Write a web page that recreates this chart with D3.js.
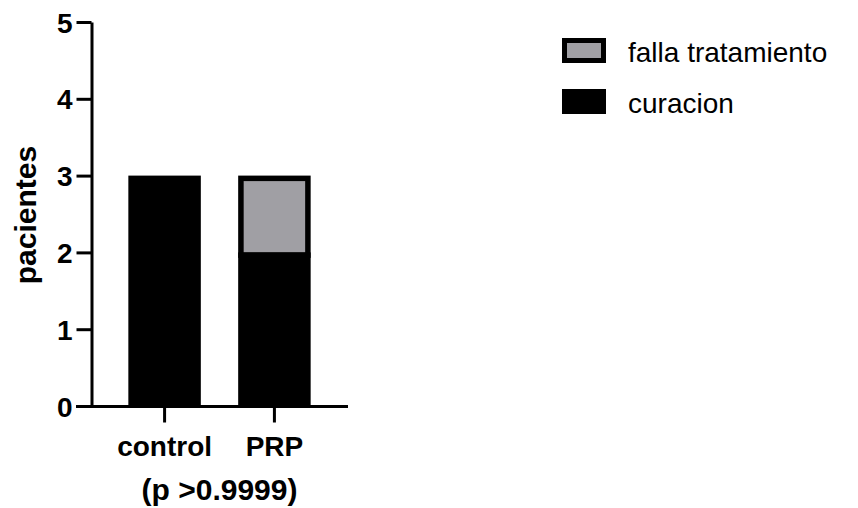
<!DOCTYPE html>
<html>
<head>
<meta charset="utf-8">
<script src="https://cdn.jsdelivr.net/npm/d3@7"></script>
<style>
  body { margin: 0; background: #fff; }
  svg text { font-family: "Liberation Sans", Arial, Helvetica, sans-serif; }
</style>
</head>
<body>
<svg id="chart" width="858" height="508"></svg>
<script>
const categories = ['control', 'PRP']
const curacion = [3, 2]
const falla = [0, 1]
const yTicks = [0, 1, 2, 3, 4, 5]
const seriesNames = ['falla tratamiento', 'curacion']
const seriesColors = ['#a09fa4', '#000000']

const svg = d3.select('#chart')
const x = d3.scaleBand().domain(categories).range([91, 348]).padding(0.34)
const y = d3.scaleLinear().domain([0, 5]).range([406, 22])

const rows = categories.map((c, i) => ({cat: c, curacion: curacion[i], falla: falla[i]}))
const stack = d3.stack().keys(['curacion', 'falla'])(rows)
const bw = 5.5

// gray segment first (with thick border), black on top of its bottom edge
const gFalla = svg.append('g')
gFalla.selectAll('rect').data(stack[1].filter(d => d[1] > d[0])).join('rect')
  .attr('x', d => x(d.data.cat) + bw / 2)
  .attr('y', d => y(d[1]) + bw / 2)
  .attr('width', x.bandwidth() - bw)
  .attr('height', d => y(d[0]) - y(d[1]))
  .attr('fill', seriesColors[0])
  .attr('stroke', '#000').attr('stroke-width', bw)

const gCur = svg.append('g')
gCur.selectAll('rect').data(stack[0]).join('rect')
  .attr('x', d => x(d.data.cat))
  .attr('y', d => y(d[1]))
  .attr('width', x.bandwidth())
  .attr('height', d => y(d[0]) - y(d[1]))
  .attr('fill', seriesColors[1])

// axes
const yAxis = svg.append('g').attr('transform', 'translate(91.5,0)')
  .call(d3.axisLeft(y).tickValues(yTicks).tickFormat(d3.format('d')).tickSize(15).tickSizeOuter(0).tickPadding(4))
const xAxis = svg.append('g').attr('transform', 'translate(0,406.5)')
  .call(d3.axisBottom(x).tickSize(16).tickSizeOuter(0).tickPadding(14))
xAxis.select('.domain').attr('d', 'M76,0H348')
;[yAxis, xAxis].forEach(a => {
  a.selectAll('path,line').attr('stroke', '#000').attr('stroke-width', 3)
  a.selectAll('text').attr('fill', '#000').attr('font-size', 28).attr('font-weight', 'bold')
    .style('font-family', '"Liberation Sans", Arial, sans-serif')
})
yAxis.selectAll('text').attr('dy', '0.36em')

svg.append('text')
  .attr('transform', 'translate(36,215) rotate(-90)')
  .attr('text-anchor', 'middle')
  .attr('font-size', 30).attr('font-weight', 'bold')
  .text('pacientes')

svg.append('text')
  .attr('x', (x.range()[0] + x.range()[1]) / 2).attr('y', 500)
  .attr('text-anchor', 'middle')
  .attr('font-size', 30).attr('font-weight', 'bold')
  .text('(p >0.9999)')

// legend
const legend = svg.append('g').attr('transform', 'translate(562,38)')
const li = legend.selectAll('g').data(seriesNames).join('g')
  .attr('transform', (d, i) => `translate(0,${i * 51})`)
li.append('rect')
  .attr('x', (d, i) => i === 0 ? 2.5 : 0).attr('y', (d, i) => i === 0 ? 2.5 : 0)
  .attr('width', (d, i) => i === 0 ? 39 : 44).attr('height', (d, i) => i === 0 ? 20 : 25)
  .attr('fill', (d, i) => seriesColors[i])
  .attr('stroke', (d, i) => i === 0 ? '#000' : 'none').attr('stroke-width', 5)
li.append('text')
  .attr('x', 66).attr('y', 24)
  .attr('font-size', 28)
  .text(d => d)
</script>
</body>
</html>
